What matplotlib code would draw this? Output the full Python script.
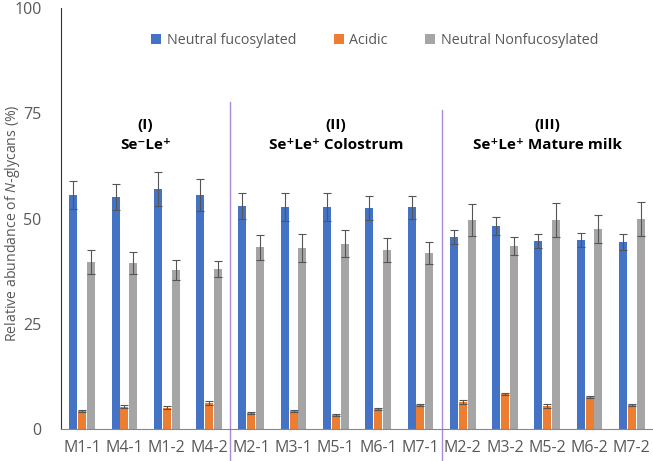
import matplotlib
matplotlib.use('Agg')
import matplotlib.pyplot as plt
import numpy as np

plt.rcParams['font.family'] = ['Open Sans', 'DejaVu Sans']
plt.rcParams['mathtext.fontset'] = 'custom'
plt.rcParams['mathtext.rm'] = 'Open Sans'
plt.rcParams['mathtext.it'] = 'Open Sans:italic'

# sample names and group labels
samples = ['M1-1', 'M4-1', 'M1-2', 'M4-2', 'M2-1', 'M3-1', 'M5-1',
           'M6-1', 'M7-1', 'M2-2', 'M3-2', 'M5-2', 'M6-2', 'M7-2']
series = ['Neutral fucosylated', 'Acidic', 'Neutral Nonfucosylated']

# values (%)
fuc = [55.6, 55.1, 57.0, 55.6, 53.0, 52.7, 52.7, 52.5, 52.7, 45.6, 48.2, 44.7, 44.9, 44.4]
fuc_err = [3.3, 3.0, 4.0, 3.8, 3.0, 3.3, 3.3, 2.8, 2.7, 1.7, 2.1, 1.6, 1.6, 1.9]
acid = [4.3, 5.3, 5.1, 6.2, 3.8, 4.3, 3.3, 4.7, 5.7, 6.4, 8.3, 5.5, 7.6, 5.7]
acid_err = [0.3, 0.4, 0.4, 0.4, 0.3, 0.3, 0.2, 0.3, 0.3, 0.4, 0.3, 0.4, 0.3, 0.3]
nonfuc = [39.7, 39.4, 37.8, 38.0, 43.2, 43.0, 44.0, 42.5, 41.8, 49.6, 43.5, 49.6, 47.5, 49.9]
nonfuc_err = [2.8, 2.6, 2.3, 1.9, 3.0, 3.3, 3.2, 2.8, 2.7, 3.8, 2.1, 4.0, 3.3, 4.0]

group_titles = ['(I)\nSe\u207bLe\u207a', '(II)\nSe\u207aLe\u207a Colostrum',
                '(III)\nSe\u207aLe\u207a Mature milk']
group_centers = [1.5, 6.0, 11.0]
separators = [3.5, 8.5]
sep_tops = [77.7, 75.8]

colors = ['#4472C4', '#ED7D31', '#A5A5A5']
txt = '#595959'

fig = plt.figure(figsize=(6.53, 4.61), dpi=100)
ax = fig.add_axes([0.0934, 0.0694, 0.9066, 0.9132])

x = np.arange(len(samples))
w = 0.19
offs = [-0.21, 0.0, 0.21]
for vals, errs, off, c, lab in zip([fuc, acid, nonfuc], [fuc_err, acid_err, nonfuc_err],
                                   offs, colors, series):
    ax.bar(x + off, vals, w, color=c, label=lab, zorder=2)
    ax.errorbar(x + off, vals, yerr=errs, fmt='none', ecolor='#555555',
                elinewidth=0.8, capsize=2.7, capthick=0.8, zorder=3)

ax.set_xlim(-0.5, len(samples) - 0.5)
ax.set_ylim(0, 100)
ax.set_yticks([0, 25, 50, 75, 100])
ax.set_xticks(x)
ax.set_xticklabels(samples)
ax.tick_params(axis='both', length=0, labelsize=11.5, labelcolor=txt)
ax.tick_params(axis='x', pad=8)
ax.tick_params(axis='y', pad=14)

for s in ['top', 'right']:
    ax.spines[s].set_visible(False)
ax.spines['left'].set_color('#333333')
ax.spines['bottom'].set_color('#888888')

ax.set_ylabel('Relative abundance of $\\it{N}$-glycans (%)', fontsize=10.2, color=txt)
ax.yaxis.set_label_coords(-0.066, 0.49)

for sx, top in zip(separators, sep_tops):
    ax.plot([sx, sx], [top, -7.5], color='#A98BD6', lw=1, clip_on=False, zorder=1)

for gx, t in zip(group_centers, group_titles):
    ax.text(gx, 69.8, t, ha='center', va='center', fontsize=11, fontweight='bold',
            linespacing=1.5, color='black')

ax.legend(loc='center', bbox_to_anchor=(0.53, 0.922), ncol=3, frameon=False,
          fontsize=10.3, handlelength=0.7, handleheight=0.7, handletextpad=0.4,
          columnspacing=2.6, labelcolor=txt)

fig.savefig('out.png', dpi=100)
